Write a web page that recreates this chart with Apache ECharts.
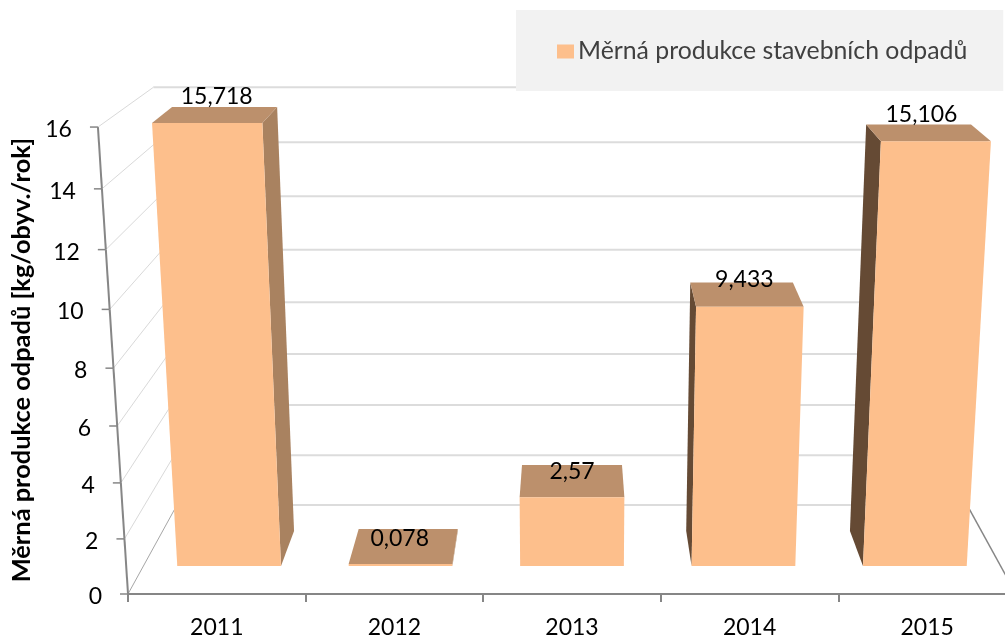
<!DOCTYPE html>
<html>
<head>
<meta charset="utf-8">
<style>html,body{margin:0;padding:0;background:#fff}#chart{width:1005px;height:639px}</style>
<script src="https://cdn.jsdelivr.net/npm/echarts@6/dist/echarts.min.js"></script>
</head>
<body>
<div id="chart"></div>
<script>
var years = ['2011', '2012', '2013', '2014', '2015'];
var values = [15.718, 0.078, 2.57, 9.433, 15.106];
var valueLabels = ['15,718', '0,078', '2,57', '9,433', '15,106'];
var yTicks = [0, 2, 4, 6, 8, 10, 12, 14, 16];
var seriesName = 'Měrná produkce stavebních odpadů';
var yTitle = 'Měrná produkce odpadů [kg/obyv./rok]';

var font = 'Lato';

// perspective of the 3D box, fitted on the picture
var centerX = 572;
var depthW = 0.124, depthY = -26.4;
var topW = -0.0634, topY = -475;
var barFront = 0.29, barBack = 0.683, barShare = 0.605;
var labelNudge = [0, -5, 0, -1, -5];

// grid pixel + depth (0 front, 1 back wall) -> screen pixel
function project(px, py, d, rect) {
	var base = rect.y + rect.height;
	var t = (base - py) / rect.height;
	var w = 1 + topW * t + depthW * d;
	return [centerX + (px - centerX) / w, (base + topY * t + depthY * d) / w];
}

function renderWalls(params, api) {
	var rect = params.coordSys;
	var v = api.value(1);
	var py = api.coord([0, v])[1];
	var left = rect.x, right = rect.x + rect.width;
	var a = project(left, py, 0, rect);
	var b = project(left, py, 1, rect);
	var c = project(right, py, 1, rect);
	var kids = [];
	var wallColor = v === 0 ? '#a6a6a6' : '#d9d9d9';
	kids.push({type: 'line', shape: {x1: a[0], y1: a[1], x2: b[0], y2: b[1]}, style: {stroke: wallColor, lineWidth: 1}});
	kids.push({type: 'line', shape: {x1: b[0], y1: b[1], x2: c[0], y2: c[1]}, style: {stroke: '#dcdcdc', lineWidth: 2}});
	if (v === 0) {
		var f = project(right, py, 0, rect);
		kids.push({type: 'line', shape: {x1: c[0], y1: c[1], x2: f[0], y2: f[1]}, style: {stroke: '#868686', lineWidth: 1.5}});
	}
	// slanted value axis, tick and label
	var next = v + 2;
	if (next <= yTicks[yTicks.length - 1]) {
		var n = project(left, api.coord([0, next])[1], 0, rect);
		kids.push({type: 'line', shape: {x1: a[0], y1: a[1], x2: n[0], y2: n[1]}, style: {stroke: '#868686', lineWidth: 2}});
	}
	kids.push({type: 'line', shape: {x1: a[0] - 8, y1: a[1], x2: a[0], y2: a[1]}, style: {stroke: '#868686', lineWidth: 1.5}});
	kids.push({type: 'text', style: {text: String(v), x: a[0] - 26, y: a[1] + 2.5, fill: '#000', fontFamily: font, fontSize: 23, align: 'right', verticalAlign: 'middle'}});
	return {type: 'group', children: kids};
}

function poly(points, color) {
	return {type: 'polygon', shape: {points: points}, style: {fill: color}};
}

function renderBar(params, api) {
	var rect = params.coordSys;
	var i = api.value(0);
	var base = api.coord([i, 0]);
	var top = api.coord([i, api.value(1)]);
	var half = api.size([1, 0])[0] * barShare / 2;
	var l = base[0] - half, r = base[0] + half;
	var p = function (x, y, d) { return project(x, y, d, rect); };
	var kids = [];
	if (r < centerX) {
		kids.push(poly([p(r, base[1], barFront), p(r, base[1], barBack), p(r, top[1], barBack), p(r, top[1], barFront)], '#a98260'));
	}
	if (l > centerX) {
		kids.push(poly([p(l, base[1], barFront), p(l, base[1], barBack), p(l, top[1], barBack), p(l, top[1], barFront)], '#654a34'));
	}
	kids.push(poly([p(l, top[1], barFront), p(r, top[1], barFront), p(r, top[1], barBack), p(l, top[1], barBack)], '#bc906c'));
	kids.push(poly([p(l, base[1], barFront), p(r, base[1], barFront), p(r, top[1], barFront), p(l, top[1], barFront)], '#fdbf8c'));
	var labelAt = p(base[0], top[1], 0.5);
	var backY = p(base[0], top[1], barBack)[1];
	kids.push({type: 'text', style: {
		text: valueLabels[i], x: labelAt[0] + labelNudge[i], y: backY + 9.5 - 1.28 * api.value(1),
		fill: '#000', fontFamily: font, fontSize: 23, align: 'center', verticalAlign: 'middle'
	}});
	return {type: 'group', children: kids};
}

var chart = echarts.init(document.getElementById('chart'));
chart.setOption({
	animation: false,
	backgroundColor: '#fff',
	legend: {
		data: [seriesName],
		left: 516, top: 10,
		padding: [29, 36, 27, 41],
		backgroundColor: '#f2f2f2',
		icon: 'rect',
		itemWidth: 17, itemHeight: 14, itemGap: 0,
		textStyle: {fontFamily: font, fontSize: 24.8, color: '#404040', padding: [0, 0, 0, -1]}
	},
	grid: {left: 128, right: -11, top: 126, bottom: 45, outerBoundsMode: 'none'},
	xAxis: {
		type: 'category',
		data: years,
		axisLine: {lineStyle: {color: '#868686', width: 2}},
		axisTick: {show: true, length: 8, lineStyle: {color: '#868686', width: 2}},
		axisLabel: {color: '#000', fontFamily: font, fontSize: 23, margin: 22}
	},
	yAxis: {
		type: 'value',
		min: 0, max: 16, interval: 2,
		name: yTitle,
		nameLocation: 'middle',
		nameGap: 94,
		nameTextStyle: {color: '#000', fontFamily: font, fontSize: 25.4, fontWeight: 'bold'},
		axisLine: {show: false},
		axisTick: {show: false},
		axisLabel: {show: false},
		splitLine: {show: false}
	},
	series: [
		{
			type: 'custom',
			name: 'walls',
			silent: true,
			clip: false,
			z: 1,
			renderItem: renderWalls,
			encode: {x: 0, y: 1},
			data: yTicks.map(function (v) { return [0, v]; })
		},
		{
			type: 'custom',
			name: seriesName,
			clip: false,
			z: 2,
			itemStyle: {color: '#fdbf8c'},
			renderItem: renderBar,
			encode: {x: 0, y: 1},
			data: values.map(function (v, i) { return [i, v]; })
		}
	]
});
</script>
</body>
</html>
